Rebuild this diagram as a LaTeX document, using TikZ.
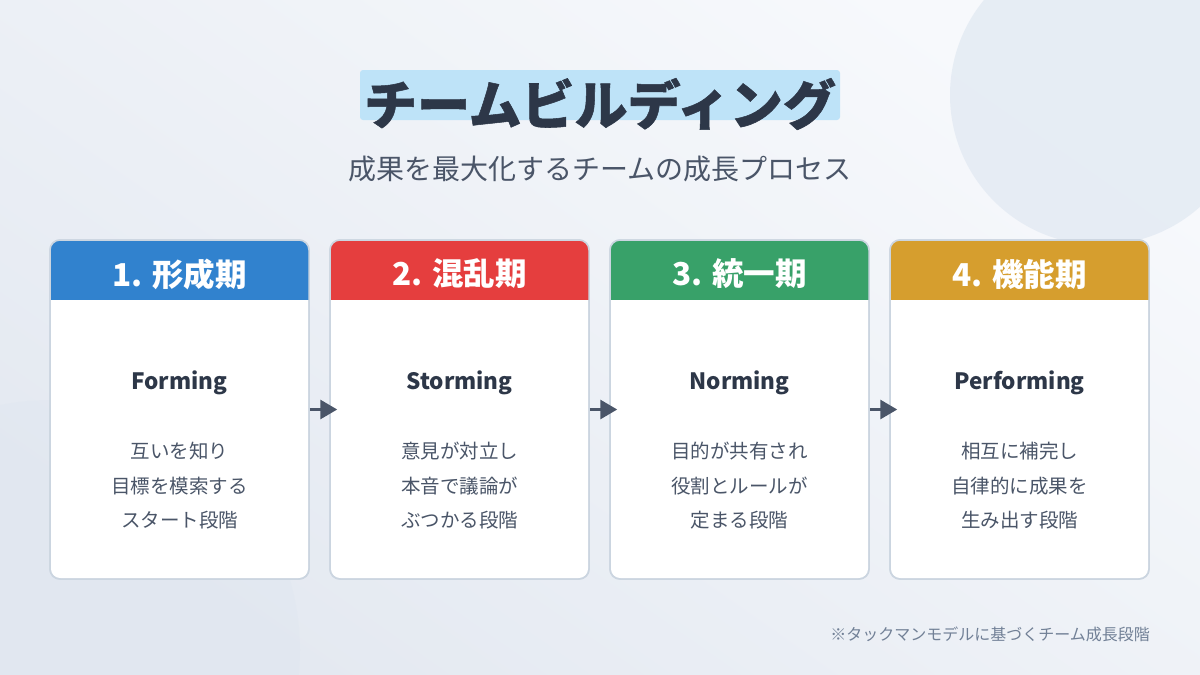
\documentclass[tikz,border=0pt]{standalone}
\usepackage{fontspec}
\setmainfont{Noto Sans CJK JP}
\newfontfamily\titlefont{Noto Sans CJK JP}[BoldFeatures={FakeBold=1}]
\usetikzlibrary{arrows.meta}
\definecolor{bgA}{HTML}{F7F9FC}
\definecolor{bgB}{HTML}{E4E9F1}
\definecolor{circ}{HTML}{DCE5F0}
\definecolor{dark}{HTML}{2D3748}
\definecolor{mid}{HTML}{4A5568}
\definecolor{soft}{HTML}{718096}
\definecolor{edge}{HTML}{CBD5E0}
\definecolor{hl}{HTML}{BEE3F8}
\definecolor{hblue}{HTML}{3182CE}
\definecolor{hred}{HTML}{E53E3E}
\definecolor{hgreen}{HTML}{38A169}
\definecolor{hgold}{HTML}{D69E2E}
\tikzset{
  cardbox/.style={draw=edge, line width=1.5pt, fill=white, rounded corners=10pt,
    minimum width=259pt, minimum height=339pt, inner sep=0pt},
  headtxt/.style={text=white, font=\fontsize{31.5}{36}\selectfont\bfseries, inner sep=0pt},
  engtxt/.style={text=dark, font=\fontsize{22.5}{26}\selectfont\bfseries, inner sep=0pt, anchor=base},
  desctxt/.style={text=mid, font=\fontsize{19.5}{34.5}\selectfont, align=center, inner sep=0pt},
  flow/.style={draw=mid, line width=3pt, -{Triangle[length=17pt,width=19pt]}},
}
\begin{document}
\begin{tikzpicture}[x=1pt,y=-1pt]
\useasboundingbox (0,0) rectangle (1200,675);
\shade[left color=bgA, right color=bgB, shading angle=-35] (0,0) rectangle (1200,675);
\begin{scope}
\clip (0,0) rectangle (1200,675);
\fill[circ, opacity=0.6] (1100,95) circle (150);
\fill[circ, opacity=0.25] (50,650) circle (250);
\end{scope}
% title
\fill[hl, rounded corners=3pt] (360,70) rectangle (840,120);
\node[text=dark, font=\titlefont\fontsize{53}{58}\selectfont\bfseries, inner sep=0pt] (title) at (600,104) {チームビルディング};
\node[text=mid, font=\fontsize{28}{32}\selectfont, inner sep=0pt] (sub) at (600,169) {成果を最大化するチームの成長プロセス};
% cards
\foreach \i/\x/\col/\head/\eng/\desc in {
  1/50/hblue/{1. 形成期}/Forming/{互いを知り\\目標を模索する\\スタート段階},
  2/330/hred/{2. 混乱期}/Storming/{意見が対立し\\本音で議論が\\ぶつかる段階},
  3/610/hgreen/{3. 統一期}/Norming/{目的が共有され\\役割とルールが\\定まる段階},
  4/890/hgold/{4. 機能期}/Performing/{相互に補完し\\自律的に成果を\\生み出す段階}}{
  \node[cardbox] (c\i) at (\x+129.5,409.5) {};
  \begin{scope}
    \clip[rounded corners=10pt] (\x,240) rectangle (\x+259,579);
    \fill[\col] (\x,240) rectangle (\x+259,300);
  \end{scope}
  \draw[edge, line width=1.5pt, rounded corners=10pt] (\x,240) rectangle (\x+259,579);
  \node[headtxt] (h\i) at (\x+129.5,274) {\head};
  \node[engtxt] (e\i) at (\x+129.5,389) {\eng};
  \node[desctxt] (d\i) at (\x+129.5,486) {\desc};
}
\draw[flow] (c1.east) -- ([xshift=8pt]c2.west);
\draw[flow] (c2.east) -- ([xshift=8pt]c3.west);
\draw[flow] (c3.east) -- ([xshift=8pt]c4.west);
\node[text=soft, font=\fontsize{16}{18}\selectfont, inner sep=0pt, anchor=east] (note) at (1150,634) {※タックマンモデルに基づくチーム成長段階};
\end{tikzpicture}
\end{document}
